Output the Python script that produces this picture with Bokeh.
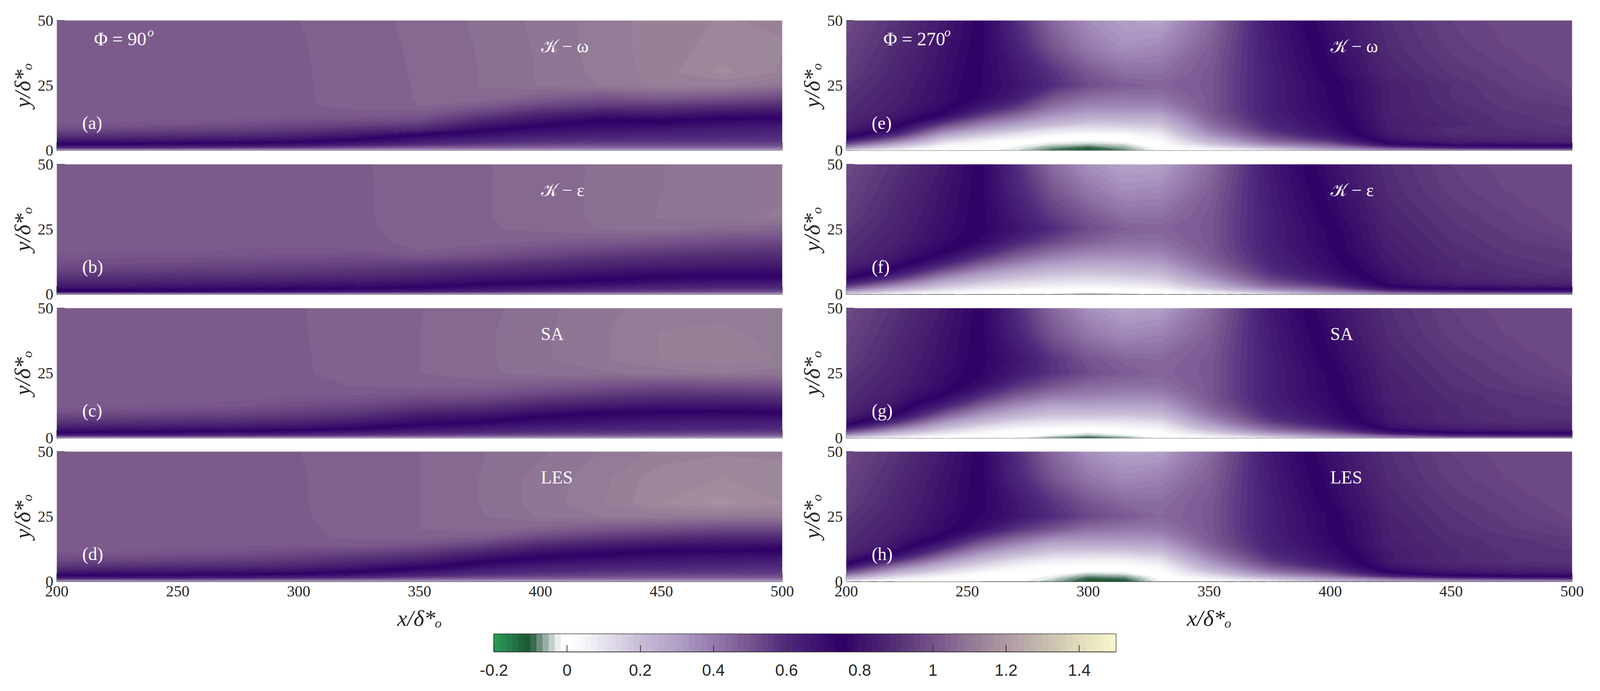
import numpy as np
from bokeh.embed import file_html
from bokeh.resources import INLINE
from bokeh.layouts import column, row
from bokeh.models import FixedTicker, Label, Spacer
from bokeh.plotting import figure

# grids the fields were read on
X_LEFT = [200, 225, 250, 275, 300, 325, 350, 375, 400, 425, 450, 475, 500]
Y_LEFT = [0, 1, 2, 3, 4, 6, 8, 10, 12, 14, 17, 20, 25, 30, 40, 50]
X_RIGHT = [200, 220, 240, 255, 270, 285, 300, 315, 330, 350, 375, 400, 425, 450, 475, 500]
Y_RIGHT = [0, 1, 2, 3, 4, 6, 8, 10, 13, 16, 20, 25, 30, 40, 50]

# values, one inner list per x column, y going up
PANEL_A = [
    [.3, .60, .72, .78, .83, .92, .98, 1.015, 1.025, 1.03, 1.03, 1.03, 1.03, 1.03, 1.03, 1.03],
    [.3, .60, .72, .78, .83, .91, .97, 1.01, 1.024, 1.03, 1.03, 1.03, 1.03, 1.03, 1.03, 1.03],
    [.3, .58, .71, .77, .82, .90, .96, 1.0, 1.02, 1.03, 1.03, 1.03, 1.03, 1.03, 1.03, 1.03],
    [.3, .56, .70, .76, .81, .89, .95, .99, 1.015, 1.028, 1.031, 1.031, 1.031, 1.031, 1.031, 1.031],
    [.3, .54, .68, .74, .79, .87, .93, .97, 1.0, 1.025, 1.032, 1.032, 1.032, 1.032, 1.032, 1.033],
    [.3, .50, .63, .70, .74, .82, .89, .96, 1.0, 1.03, 1.036, 1.037, 1.037, 1.038, 1.04, 1.043],
    [.3, .47, .58, .64, .68, .75, .87, .94, .99, 1.02, 1.05, 1.052, 1.052, 1.053, 1.054, 1.055],
    [.3, .46, .55, .60, .63, .70, .77, .83, .89, .95, 1.02, 1.065, 1.067, 1.067, 1.068, 1.07],
    [.3, .45, .53, .57, .60, .66, .71, .77, .82, .87, .96, 1.03, 1.085, 1.085, 1.086, 1.088],
    [.3, .45, .52, .56, .59, .64, .69, .72, .76, .82, .93, 1.0, 1.10, 1.105, 1.108, 1.108],
    [.3, .45, .52, .56, .59, .63, .67, .73, .77, .83, .92, 1.02, 1.12, 1.125, 1.125, 1.125],
    [.3, .45, .52, .56, .58, .62, .65, .69, .745, .80, .90, 1.0, 1.12, 1.155, 1.14, 1.135],
    [.3, .45, .52, .56, .58, .61, .64, .68, .74, .79, .88, .97, 1.09, 1.13, 1.135, 1.13],
]
PANEL_B = [
    [.3, .72, .78, .82, .85, .90, .94, .97, .99, 1.01, 1.025, 1.03, 1.03, 1.03, 1.03, 1.03],
    [.3, .72, .78, .82, .85, .89, .93, .96, .99, 1.0, 1.02, 1.028, 1.03, 1.03, 1.03, 1.03],
    [.3, .72, .77, .81, .84, .89, .92, .955, .98, 1.0, 1.02, 1.028, 1.03, 1.03, 1.03, 1.03],
    [.3, .71, .76, .80, .83, .88, .92, .95, .975, .995, 1.015, 1.027, 1.03, 1.03, 1.03, 1.03],
    [.3, .69, .75, .79, .82, .87, .91, .94, .97, .99, 1.01, 1.025, 1.03, 1.03, 1.03, 1.03],
    [.3, .67, .74, .78, .81, .86, .90, .93, .96, .98, 1.015, 1.028, 1.03, 1.031, 1.031, 1.032],
    [.3, .65, .72, .76, .79, .84, .88, .91, .95, 1.0, 1.034, 1.038, 1.04, 1.04, 1.04, 1.038],
    [.3, .62, .68, .72, .76, .81, .85, .89, .93, .98, 1.02, 1.04, 1.047, 1.048, 1.048, 1.048],
    [.3, .59, .65, .69, .74, .79, .83, .87, .90, .95, .99, 1.03, 1.055, 1.058, 1.058, 1.057],
    [.3, .57, .62, .67, .71, .765, .80, .84, .88, .91, .97, 1.02, 1.068, 1.07, 1.07, 1.07],
    [.3, .55, .60, .64, .68, .735, .78, .82, .86, .89, .95, 1.0, 1.075, 1.085, 1.083, 1.083],
    [.3, .54, .58, .63, .66, .72, .77, .81, .85, .88, .93, .98, 1.06, 1.095, 1.09, 1.09],
    [.3, .53, .58, .62, .66, .72, .77, .81, .84, .87, .92, .97, 1.05, 1.102, 1.097, 1.09],
]
PANEL_C = [
    [.3, .62, .74, .80, .84, .91, .96, 1.0, 1.02, 1.028, 1.03, 1.03, 1.03, 1.03, 1.03, 1.03],
    [.3, .62, .73, .79, .83, .90, .95, .99, 1.015, 1.025, 1.03, 1.03, 1.03, 1.03, 1.03, 1.03],
    [.3, .61, .72, .78, .82, .89, .94, .98, 1.01, 1.02, 1.03, 1.03, 1.03, 1.03, 1.03, 1.03],
    [.3, .60, .71, .77, .81, .88, .93, .97, 1.0, 1.015, 1.03, 1.03, 1.03, 1.03, 1.03, 1.03],
    [.3, .58, .69, .75, .80, .86, .91, .95, .98, 1.0, 1.02, 1.03, 1.032, 1.032, 1.032, 1.032],
    [.3, .56, .66, .72, .76, .83, .88, .93, .96, .99, 1.02, 1.034, 1.037, 1.038, 1.04, 1.042],
    [.3, .54, .62, .67, .71, .78, .82, .87, .92, .96, 1.01, 1.04, 1.05, 1.05, 1.05, 1.049],
    [.3, .52, .60, .64, .67, .75, .80, .85, .90, .95, 1.0, 1.04, 1.062, 1.062, 1.062, 1.06],
    [.3, .50, .58, .62, .65, .70, .74, .80, .85, .90, .97, 1.02, 1.075, 1.08, 1.08, 1.077],
    [.3, .50, .57, .60, .63, .68, .72, .76, .82, .87, .94, 1.0, 1.08, 1.097, 1.097, 1.095],
    [.3, .49, .56, .60, .62, .66, .70, .75, .80, .85, .92, .98, 1.09, 1.117, 1.118, 1.108],
    [.3, .48, .55, .59, .62, .65, .69, .75, .80, .85, .92, .99, 1.10, 1.125, 1.125, 1.105],
    [.3, .48, .55, .58, .61, .65, .70, .76, .81, .86, .93, 1.0, 1.09, 1.115, 1.105, 1.10],
]
PANEL_D = [
    [.28, .58, .73, .79, .84, .92, .97, 1.0, 1.02, 1.028, 1.03, 1.03, 1.03, 1.03, 1.03, 1.03],
    [.28, .57, .72, .78, .83, .91, .96, 1.0, 1.018, 1.027, 1.03, 1.03, 1.03, 1.03, 1.03, 1.03],
    [.28, .57, .71, .78, .82, .90, .95, .99, 1.01, 1.025, 1.03, 1.03, 1.03, 1.03, 1.03, 1.03],
    [.28, .56, .70, .77, .81, .89, .94, .98, 1.005, 1.02, 1.03, 1.03, 1.03, 1.03, 1.03, 1.03],
    [.28, .54, .69, .75, .80, .87, .92, .96, .99, 1.015, 1.03, 1.031, 1.032, 1.032, 1.032, 1.033],
    [.28, .52, .66, .72, .76, .83, .89, .93, .98, 1.025, 1.036, 1.037, 1.038, 1.04, 1.04, 1.042],
    [.28, .49, .60, .66, .71, .78, .84, .90, .95, 1.0, 1.04, 1.05, 1.05, 1.05, 1.05, 1.05],
    [.28, .47, .56, .61, .64, .71, .77, .83, .89, .95, 1.03, 1.06, 1.065, 1.067, 1.067, 1.065],
    [.28, .46, .54, .58, .61, .66, .72, .77, .82, .88, .97, 1.04, 1.085, 1.09, 1.09, 1.08],
    [.28, .46, .53, .56, .59, .64, .69, .74, .79, .84, .93, 1.01, 1.10, 1.115, 1.11, 1.10],
    [.28, .45, .52, .55, .58, .63, .67, .71, .76, .81, .90, .99, 1.11, 1.15, 1.145, 1.12],
    [.28, .45, .52, .55, .58, .62, .66, .70, .76, .80, .88, .97, 1.10, 1.172, 1.15, 1.13],
    [.28, .45, .52, .55, .57, .61, .65, .70, .75, .79, .88, .97, 1.10, 1.15, 1.14, 1.13],
]
PANEL_E = [
    [.12, .33, .47, .58, .68, .80, .84, .86, .88, .89, .90, .92, .94, .96, .98],
    [.05, .15, .25, .35, .45, .62, .72, .78, .82, .84, .85, .86, .87, .89, .91],
    [0, .02, .06, .11, .17, .30, .43, .55, .72, .77, .79, .79, .80, .81, .83],
    [-.005, 0, .02, .04, .08, .18, .30, .40, .55, .66, .73, .74, .74, .75, .75],
    [-.03, -.02, -.01, 0, .03, .10, .20, .30, .43, .55, .65, .68, .67, .63, .60],
    [-.09, -.07, -.04, -.02, 0, .05, .12, .22, .32, .41, .50, .60, .58, .50, .45],
    [-.11, -.10, -.06, -.03, -.012, .02, .09, .16, .27, .35, .43, .52, .49, .40, .35],
    [-.08, -.06, -.04, -.02, 0, .03, .10, .17, .27, .35, .41, .48, .43, .34, .30],
    [-.005, 0, .01, .02, .04, .08, .13, .19, .27, .35, .42, .46, .43, .36, .29],
    [.03, .08, .15, .20, .25, .33, .39, .43, .47, .49, .49, .49, .49, .47, .44],
    [.10, .22, .35, .42, .47, .54, .59, .61, .63, .64, .64, .64, .64, .65, .66],
    [.25, .38, .46, .54, .60, .67, .70, .71, .72, .73, .74, .74, .76, .78, .80],
    [.35, .52, .70, .77, .80, .83, .84, .84, .85, .85, .85, .85, .87, .89, .90],
    [.35, .62, .76, .82, .85, .88, .89, .87, .88, .89, .90, .90, .92, .94, .95],
    [.35, .64, .77, .83, .86, .89, .90, .91, .91, .92, .93, .94, .95, .97, .98],
    [.35, .66, .77, .84, .87, .90, .91, .92, .93, .93, .95, .97, .98, .98, .98],
]
PANEL_F = [
    [.12, .30, .44, .55, .63, .75, .81, .84, .87, .89, .90, .92, .94, .96, .98],
    [.05, .16, .26, .35, .43, .58, .68, .75, .81, .83, .85, .86, .87, .89, .91],
    [.02, .07, .13, .19, .24, .35, .46, .56, .68, .75, .78, .79, .80, .81, .83],
    [.01, .04, .08, .12, .16, .25, .33, .42, .54, .64, .73, .75, .75, .75, .75],
    [0, .02, .05, .09, .12, .18, .25, .32, .43, .52, .62, .68, .66, .62, .60],
    [-.02, 0, .03, .06, .09, .14, .20, .26, .35, .43, .53, .60, .56, .50, .44],
    [-.05, -.01, .02, .05, .08, .13, .18, .23, .31, .38, .47, .52, .49, .41, .34],
    [-.03, 0, .03, .06, .09, .14, .19, .24, .31, .37, .43, .47, .43, .35, .29],
    [-.005, .02, .05, .08, .11, .17, .22, .27, .33, .38, .43, .46, .43, .36, .30],
    [.03, .10, .17, .22, .26, .33, .38, .42, .46, .48, .49, .49, .49, .47, .44],
    [.10, .25, .37, .44, .48, .54, .58, .60, .62, .63, .64, .64, .64, .65, .66],
    [.25, .40, .48, .55, .60, .66, .69, .71, .72, .73, .74, .74, .76, .78, .80],
    [.35, .53, .69, .75, .78, .80, .81, .82, .83, .84, .85, .86, .87, .89, .90],
    [.35, .62, .75, .80, .83, .86, .87, .88, .88, .89, .90, .91, .92, .94, .95],
    [.35, .64, .76, .81, .85, .88, .89, .90, .91, .92, .93, .94, .95, .97, .98],
    [.35, .66, .76, .82, .86, .89, .91, .92, .93, .93, .95, .97, .98, .98, .98],
]
PANEL_G = [
    [.12, .33, .47, .58, .68, .80, .84, .86, .88, .89, .90, .92, .94, .96, .98],
    [.05, .15, .25, .35, .44, .60, .71, .77, .81, .83, .85, .86, .87, .89, .91],
    [0, .05, .11, .16, .22, .33, .44, .54, .66, .74, .78, .79, .80, .81, .83],
    [-.005, .02, .05, .08, .12, .21, .30, .38, .50, .60, .71, .74, .75, .75, .75],
    [-.02, 0, .015, .03, .06, .13, .21, .28, .38, .48, .58, .66, .68, .63, .60],
    [-.07, -.02, 0, .02, .04, .10, .16, .22, .31, .40, .50, .58, .58, .50, .45],
    [-.11, -.05, -.02, 0, .03, .08, .16, .22, .31, .38, .45, .52, .50, .41, .34],
    [-.07, -.025, 0, .02, .04, .09, .15, .22, .30, .36, .43, .48, .46, .36, .29],
    [-.01, 0, .02, .04, .06, .12, .18, .24, .31, .37, .43, .46, .45, .38, .30],
    [.03, .08, .15, .20, .25, .33, .39, .43, .47, .49, .49, .49, .49, .47, .44],
    [.10, .23, .35, .42, .47, .55, .59, .61, .63, .64, .64, .64, .64, .65, .66],
    [.25, .38, .47, .55, .60, .67, .70, .71, .72, .73, .74, .74, .76, .78, .80],
    [.35, .50, .68, .75, .79, .82, .83, .83, .84, .85, .85, .86, .87, .89, .90],
    [.35, .62, .75, .81, .84, .87, .88, .88, .88, .89, .90, .91, .92, .94, .95],
    [.35, .64, .76, .82, .85, .89, .90, .90, .91, .91, .93, .94, .95, .97, .98],
    [.35, .66, .76, .83, .86, .89, .91, .91, .92, .93, .95, .97, .98, .98, .98],
]
PANEL_H = [
    [.05, .22, .35, .47, .56, .71, .80, .85, .88, .89, .90, .92, .94, .96, .98],
    [0, .07, .14, .22, .30, .45, .60, .71, .80, .83, .85, .86, .87, .89, .91],
    [0, .02, .05, .09, .14, .24, .35, .46, .61, .72, .78, .79, .80, .81, .83],
    [0, .005, .015, .03, .06, .13, .21, .30, .43, .55, .70, .74, .75, .75, .75],
    [-.005, 0, .002, .01, .02, .06, .12, .20, .32, .44, .58, .68, .67, .62, .60],
    [-.05, -.035, -.02, -.005, .005, .03, .07, .13, .23, .34, .50, .60, .58, .50, .45],
    [-.11, -.10, -.07, -.04, -.01, .02, .06, .12, .22, .32, .43, .53, .50, .41, .34],
    [-.11, -.09, -.06, -.03, -.01, .02, .06, .12, .23, .32, .41, .49, .45, .36, .29],
    [-.01, -.005, 0, .01, .02, .05, .10, .16, .25, .33, .41, .45, .44, .38, .30],
    [.02, .05, .10, .15, .20, .28, .34, .39, .45, .48, .49, .49, .49, .47, .44],
    [.08, .18, .29, .37, .43, .51, .56, .59, .62, .63, .64, .64, .64, .65, .66],
    [.22, .30, .42, .50, .56, .64, .68, .70, .72, .73, .74, .74, .76, .78, .80],
    [.30, .42, .62, .72, .77, .81, .83, .83, .84, .85, .85, .86, .87, .89, .90],
    [.30, .50, .72, .79, .82, .86, .88, .88, .88, .89, .90, .91, .92, .94, .95],
    [.30, .55, .75, .80, .84, .88, .90, .90, .91, .91, .93, .94, .95, .97, .98],
    [.30, .58, .76, .81, .85, .89, .91, .91, .92, .93, .95, .97, .98, .98, .98],
]

PANEL_TAGS = ["(a)", "(b)", "(c)", "(d)", "(e)", "(f)", "(g)", "(h)"]
MODELS = ["\U0001D4A6 \u2212 \u03C9", "\U0001D4A6 \u2212 \u03B5", "SA", "LES"]
X_TICKS = [200, 250, 300, 350, 400, 450, 500]
Y_TICKS = [0, 25, 50]
CB_TICKS = [-0.2, 0, 0.2, 0.4, 0.6, 0.8, 1, 1.2, 1.4]
CB_TICK_LABELS = ["-0.2", "0", "0.2", "0.4", "0.6", "0.8", "1", "1.2", "1.4"]

# colormap stops
CMAP_V = [-0.2, -0.15, -0.11, -0.095, -0.08, -0.065, -0.05, -0.035, -0.015, 0.019,
          0.1, 0.2, 0.3, 0.4, 0.5, 0.6, 0.75, 0.9, 1.0, 1.1, 1.2, 1.3, 1.4, 1.5]
CMAP_C = ["#2a9d56", "#24794a", "#1b5a36", "#2f6448", "#5f8270", "#88a596", "#adbfb6", "#d4dfda",
          "#ffffff", "#ffffff", "#e7e3ef", "#c9bdd6", "#b2a1c8", "#967bae", "#76558f", "#4f2a7c",
          "#2f0066", "#553075", "#76528a", "#917a95", "#af9aa4", "#c6bbae", "#e0dcbb", "#fbf8cf"]

LEVELS = [-0.2 + k / 60 for k in range(103)]
TEXT = "#262626"
SERIF = "Liberation Serif"


def colors_at(values):
    rgb = np.array([[int(c[i:i + 2], 16) for i in (1, 3, 5)] for c in CMAP_C], dtype=float)
    chans = [np.interp(values, CMAP_V, rgb[:, i]) for i in range(3)]
    return ["#%02x%02x%02x" % (int(r), int(g), int(b)) for r, g, b in zip(*chans)]


MIDS = [(a + b) / 2 for a, b in zip(LEVELS[:-1], LEVELS[1:])]
FILL = colors_at(MIDS)
EDGE = colors_at(LEVELS)


def add_text(p, text, x, y, size, style="normal"):
    # x and y are screen pixels from the lower left corner of the frame
    p.add_layout(Label(x=x, y=y, x_units="screen", y_units="screen", text=text,
                       text_font=SERIF, text_font_size=f"{size}px", text_font_style=style,
                       text_color="white", text_align="left", text_baseline="alphabetic",
                       level="overlay"))


def panel(xs, ys, cols, tag, model, frame_w, left, right, top, bottom, pull, axis_color, last=False, phi=None, phi_o=0):
    p = figure(width=left + frame_w + right, height=top + 332 + bottom, frame_width=frame_w, frame_height=332,
               x_range=(200, 500), y_range=(0, 50), output_backend="svg", toolbar_location=None,
               min_border_left=left, min_border_right=right, min_border_top=top, min_border_bottom=bottom,
               border_fill_color=None, background_fill_color=None, margin=(-pull, 0, 0, 0))
    p.grid.visible = False
    p.outline_line_color = None
    r = p.contour(xs, ys, np.array(cols).T, LEVELS, fill_color=FILL, line_color=EDGE, line_width=1.2)
    r.level = "annotation"

    p.xaxis.ticker = FixedTicker(ticks=X_TICKS)
    p.yaxis.ticker = FixedTicker(ticks=Y_TICKS)
    p.axis.major_tick_in = 20
    p.axis.major_tick_out = 0
    p.axis.minor_tick_line_color = None
    p.axis.major_tick_line_color = "#444444"
    p.axis.major_tick_line_width = 2
    p.yaxis.axis_line_color = None
    p.xaxis.axis_line_color = axis_color
    p.xaxis.axis_line_width = 3
    p.axis.major_label_text_font = SERIF
    p.axis.major_label_text_color = TEXT
    p.axis.major_label_text_font_size = "40px"
    p.yaxis.major_label_standoff = 9
    p.yaxis.major_label_orientation = "horizontal"
    p.yaxis.axis_label = "y/\u03B4*\u2092"
    p.yaxis.axis_label_standoff = 4
    p.axis.axis_label_text_font = SERIF
    p.axis.axis_label_text_font_style = "italic"
    p.axis.axis_label_text_font_size = "58px"
    p.axis.axis_label_text_color = TEXT
    if last:
        p.xaxis.major_label_standoff = 12
        p.xaxis.axis_label = "x/\u03B4*\u2092"
        p.xaxis.axis_label_standoff = 20
    else:
        p.xaxis.major_label_overrides = {t: "" for t in X_TICKS}
        p.xaxis.major_label_text_font_size = "1px"
        p.xaxis.major_label_standoff = 0

    add_text(p, tag, 65, 70, 46)
    add_text(p, model, 1239, 266, 46)
    if phi:
        add_text(p, "\u03A6 = " + phi, 95, 285, 48)
        add_text(p, "o", phi_o, 303, 32, "italic")
    return p


left_col = column(
    panel(X_LEFT, Y_LEFT, PANEL_A, PANEL_TAGS[0], MODELS[0], 1857, 145, 38, 52, 40, 0, "#9a9a9a", phi="90", phi_o=232),
    panel(X_LEFT, Y_LEFT, PANEL_B, PANEL_TAGS[1], MODELS[1], 1857, 145, 38, 40, 40, 44, "#555555"),
    panel(X_LEFT, Y_LEFT, PANEL_C, PANEL_TAGS[2], MODELS[2], 1857, 145, 38, 40, 40, 44, "#9a9a9a"),
    panel(X_LEFT, Y_LEFT, PANEL_D, PANEL_TAGS[3], MODELS[3], 1857, 145, 38, 40, 150, 45, "#444444", last=True),
)
right_col = column(
    panel(X_RIGHT, Y_RIGHT, PANEL_E, PANEL_TAGS[4], MODELS[0], 1858, 126, 40, 52, 40, 0, "#9a9a9a", phi="270", phi_o=251),
    panel(X_RIGHT, Y_RIGHT, PANEL_F, PANEL_TAGS[5], MODELS[1], 1858, 126, 40, 40, 40, 44, "#555555"),
    panel(X_RIGHT, Y_RIGHT, PANEL_G, PANEL_TAGS[6], MODELS[2], 1858, 126, 40, 40, 40, 44, "#9a9a9a"),
    panel(X_RIGHT, Y_RIGHT, PANEL_H, PANEL_TAGS[7], MODELS[3], 1858, 126, 40, 40, 150, 45, "#444444", last=True),
)

# colour bar
cb = figure(width=1692, height=133, frame_width=1592, frame_height=45, x_range=(-0.2, 1.5), y_range=(0, 1),
            output_backend="svg", toolbar_location=None, min_border_left=50, min_border_right=50,
            min_border_top=10, min_border_bottom=78, border_fill_color=None)
cb.quad(left=LEVELS[:-1], right=LEVELS[1:], bottom=0, top=1, fill_color=FILL, line_color=FILL)
cb.grid.visible = False
cb.yaxis.visible = False
cb.outline_line_color = "#333333"
cb.outline_line_width = 3
cb.xaxis.ticker = FixedTicker(ticks=CB_TICKS)
cb.xaxis.major_label_overrides = dict(zip(CB_TICKS, CB_TICK_LABELS))
cb.xaxis.major_tick_in = 17
cb.xaxis.major_tick_out = 0
cb.xaxis.minor_tick_line_color = None
cb.xaxis.major_tick_line_color = "#333333"
cb.xaxis.major_tick_line_width = 2
cb.xaxis.axis_line_color = "#333333"
cb.xaxis.major_label_text_font = "Liberation Sans"
cb.xaxis.major_label_text_font_size = "42px"
cb.xaxis.major_label_text_color = TEXT
cb.xaxis.major_label_standoff = 32

page = column(row(left_col, right_col), row(Spacer(width=1214, height=133), cb, margin=(-25, 0, 0, 0)))
open("out.html", "w").write(file_html(page, INLINE))
